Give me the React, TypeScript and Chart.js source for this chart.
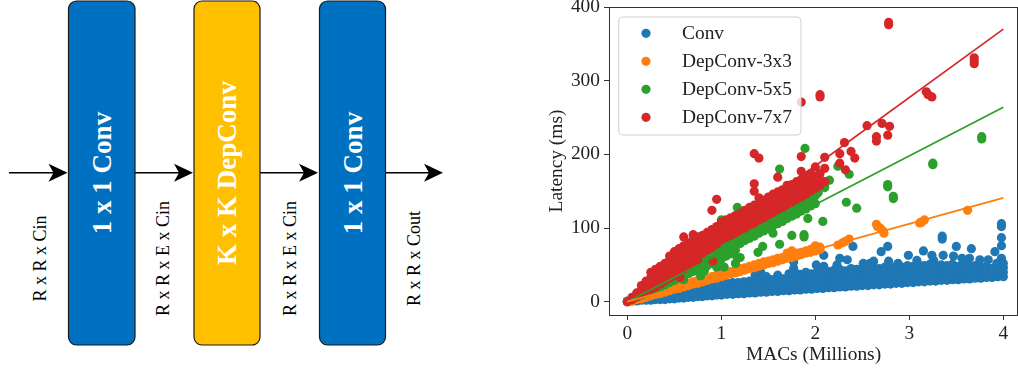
import React, { useEffect, useRef } from "react";
import { Chart, registerables } from "chart.js";
Chart.register(...registerables);

// ---------- data ----------
const seriesNames = ["Conv", "DepConv-3x3", "DepConv-5x5", "DepConv-7x7"];
const seriesColors = ["#1f77b4", "#ff7f0e", "#2ca02c", "#d62728"];
const xTicks = [0, 1, 2, 3, 4];
const yTicks = [0, 100, 200, 300, 400];
const fitX = [0, 4];
const fit3 = [0, 141];
const fit5 = [0, 264];
const fit7 = [-1, 370];

const blockLabels = ["1 x 1 Conv", "K x K DepConv", "1 x 1 Conv"];
const tensorLabels = ["R x R x Cin", "R x R x E x Cin", "R x R x E x Cin", "R x R x Cout"];

// Columns: [MACs, latency, latency, ...]
const convCols: number[][] = [
  [0,0,1],[0.05,1,3],[0.1,1,5],[0.15,2,6],[0.2,2,7],[0.25,2,5,9],[0.3,3,6,10],[0.35,3,7,11],[0.4,3,8,12],
  [0.45,4,9,13],[0.5,4,9,14],[0.55,5,10,15],[0.6,5,11,16],[0.65,6,11,17],[0.7,6,12,18],[0.75,7,13,19],
  [0.8,7,13,20],[0.85,8,14,21],[0.9,8,15,22],[0.95,9,16,23],[1,9,16,24],[1.06,10,17,25],[1.12,10,18,26],
  [1.18,11,18,26],[1.24,11,19,27],[1.3,12,20,28],[1.36,12,20,28,36],[1.42,13,21,29,40],[1.48,13,21,29,34],
  [1.54,14,22,30],[1.6,14,22,30,36],[1.66,15,23,31],[1.72,15,23,31,38],[1.78,16,24,32,40],[1.84,16,24,32,37],
  [1.9,17,25,33,40],[1.96,17,25,33,38],[2.02,18,26,34,40],[2.08,18,26,34,42],[2.14,19,27,35,41],
  [2.2,19,27,35,43],[2.26,20,28,36,44],[2.32,20,28,36,42],[2.38,21,29,37,45],[2.44,21,29,37,44],
  [2.5,22,30,38,45],[2.56,22,30,38,43],[2.62,23,31,39,46],[2.68,23,31,39,45],[2.74,24,32,40,47],
  [2.8,24,32,40,46],[2.86,25,33,41,48],[2.92,25,33,41,47],[2.98,26,34,42,49],[3.04,26,34,42,48],
  [3.1,27,35,43,50],[3.16,27,35,43,49],[3.22,28,36,44,51],[3.28,28,36,43,48],[3.34,29,36,44,50],
  [3.4,29,37,44,49],[3.46,30,37,45,51],[3.52,30,37,44,48],[3.58,31,38,45,50],[3.64,31,38,44,48],
  [3.7,32,38,45,49],[3.76,32,39,45,47],[3.82,33,39,44,48],[3.88,33,39,45],[3.94,34,40,45],[4,34,40,46]
];
const convOutliers: number[][] = [
  [1.36,46],[1.4,50],[1.77,45],[1.77,54],[2.01,50],[2.09,48],[2.09,63],[2.23,50],[2.26,59],[2.34,57],[2.4,75],
  [2.51,52],[2.58,52],[2.62,55],[2.7,68],[2.77,75],[2.78,55],[2.88,52],[2.99,63],[3.08,56],[3.15,69],[3.24,63],
  [3.26,56],[3.35,85],[3.35,89],[3.36,63],[3.47,62],[3.5,75],[3.56,59],[3.64,59],[3.66,72],[3.75,57],[3.84,57],
  [3.91,68],[3.93,52],[3.98,59],[3.98,76],[3.98,87],[3.98,102],[3.98,106],[4,52]
];

const dep3Cols: number[][] = [
  [0,0],[0.05,1,3],[0.1,3,5],[0.15,4,7],[0.2,6,9],[0.25,8,11],[0.3,10,13],[0.35,11,14],[0.4,13,16],
  [0.45,15,18],[0.5,17,20],[0.55,18,22],[0.6,20,23],[0.65,22,25],[0.7,24,27],[0.75,25,29],[0.8,27,31],
  [0.85,29,32],[0.9,31,34],[0.95,32,36],[1,34,38],[1.05,36,39],[1.1,38,41],[1.15,39,43],[1.2,41,45],
  [1.25,43,46],[1.3,45,48],[1.35,46,50],[1.4,48,52],[1.45,50,54],[1.5,52,55],[1.55,53,57],[1.6,55,59],
  [1.65,57,60],[1.7,59,62,66],[1.75,60,64,69],[1.8,62,66],[1.85,64,67],[1.9,66,69],[1.95,67,71],
  [2,69,73,76],[2.05,71,74]
];
const dep3Outliers: number[][] = [
  [2.24,77],[2.29,80],[2.32,82],[2.36,85],[2.65,105],[2.66,102],[2.69,100],[2.72,96],[2.73,93],
  [3.11,107],[3.13,108],[3.16,111],[3.62,124]
];

const dep5Cols: number[][] = [
  [0,0],[0.05,3],[0.1,6],[0.15,9],[0.2,12,14],[0.25,15,17],[0.3,18,21],[0.35,20,24],[0.4,23,28],
  [0.45,26,31],[0.5,29,35],[0.55,32,38],[0.6,35,42],[0.65,38,45,50],[0.7,41,48,54],[0.75,43,51,57],
  [0.8,46,54,60],[0.85,49,57,63],[0.9,52,60,67],[0.95,55,63,70],[1,58,67,74],[1.05,62,70,77],
  [1.1,65,73,80],[1.15,70,77,84],[1.2,79,87],[1.25,83,91],[1.3,86,94,101],[1.35,89,97,105],
  [1.4,93,101,108],[1.45,96,104,112],[1.5,99,107,115],[1.55,103,111,119],[1.6,106,114,122],
  [1.65,109,118,126],[1.7,113,121,130],[1.75,116,125,133],[1.8,119,128,137],[1.85,123,132,140],
  [1.9,126,135,144],[1.95,130,140],[2,133,144]
];
const dep5Outliers: number[][] = [
  [0.56,34],[0.6,30],[0.6,70],[0.74,43],[0.78,35],[0.78,88],[0.82,42],[0.9,53],[0.9,86],[0.95,47],[0.97,48],
  [1,105],[1,111],[1.03,47],[1.15,52],[1.17,59],[1.17,128],[1.2,60],[1.39,67],[1.44,75],[1.55,93],[1.62,78],
  [1.62,180],[1.75,90],[1.88,88],[1.88,91],[1.89,208],[1.92,113],[1.93,158],[2.03,148],[2.05,160],[2.08,109],
  [2.1,155],[2.1,160],[2.15,165],[2.24,184],[2.33,135],[2.36,173],[2.44,127],[2.77,156],[2.77,159],[2.83,140],
  [2.83,143],[3.25,186],[3.25,188],[3.77,221],[3.77,224]
];

const dep7Cols: number[][] = [
  [0,0],[0.05,3,6],[0.1,7,12],[0.15,10,16,22],[0.2,14,21,28],[0.25,17,25,33,40],[0.3,20,28,36,44],
  [0.35,24,32,40,48],[0.4,28,36,44,52],[0.45,32,40,48,56,62],[0.5,36,44,52,60,68],[0.55,40,48,56,64,72],
  [0.6,44,52,60,68,76,88],[0.65,48,56,64,72,80],[0.7,52,60,68,76,84,91],[0.75,56,64,72,80,88],
  [0.8,66,74,82,90],[0.85,70,78,86,94],[0.9,74,82,90,98,124],[0.95,78,86,94,102,139],[1,84,92,100,108],
  [1.05,87,95,103,111],[1.1,90,98,106,114],[1.15,93,101,109,117],[1.2,97,105,113,120],[1.25,100,108,116,124],
  [1.3,104,112,120,128],[1.35,107,115,123,131,150,160,201],[1.4,111,119,127,134,141,195],[1.45,114,122,130,138],
  [1.5,118,126,134,142],[1.55,121,129,137,146],[1.6,125,133,141,149,169],[1.65,128,136,144,152],
  [1.7,132,140,148,158],[1.75,135,143,151,159],[1.8,139,147,155,163],[1.85,142,150,158,166,177,197,271],
  [1.9,146,154,162,170],[1.95,150,158,166,174],[2,154,162,170,183],[2.05,158,166,174,278,281],[2.1,163,181,196]
];
const dep7Outliers: number[][] = [
  [0.56,33],[0.91,55],[2.26,188],[2.26,201],[2.31,216],[2.32,179],[2.38,204],[2.42,195],[2.55,239],[2.65,218],
  [2.65,224],[2.71,242],[2.77,226],[2.79,238],[2.78,376],[2.78,379],[3.18,285],[3.2,281],[3.24,278],[3.69,323],
  [3.69,327],[3.69,331]
];

// ---------- styles ----------
const SERIF = '"Liberation Serif", "Times New Roman", Times, serif';
const FONT_PX = 19.4;
const INK = "#222";

const colsToXY = (cols: number[][], extra: number[][]) => [
  ...cols.flatMap(([x, ...ys]) => ys.map((y) => ({ x, y }))),
  ...extra.map(([x, y]) => ({ x, y })),
];
const fitXY = (ys: number[]) => fitX.map((x, i) => ({ x, y: ys[i] }));

const frameAndLegend = {
  id: "frameAndLegend",
  afterDatasetsDraw(chart: any) {
    const { ctx, chartArea } = chart;
    const { left, top, right } = chartArea;
    ctx.save();
    ctx.strokeStyle = "#333";
    ctx.lineWidth = 1;
    ctx.beginPath();
    ctx.moveTo(left, Math.round(top) + 0.5);
    ctx.lineTo(right, Math.round(top) + 0.5);
    ctx.moveTo(Math.round(right) - 0.5, top);
    ctx.lineTo(Math.round(right) - 0.5, chartArea.bottom);
    ctx.stroke();

    const bx = left + 9.7;
    const by = top + 10;
    const bw = 182.3;
    const bh = 118;
    const r = 4;
    ctx.beginPath();
    ctx.moveTo(bx + r, by);
    ctx.lineTo(bx + bw - r, by);
    ctx.arcTo(bx + bw, by, bx + bw, by + r, r);
    ctx.lineTo(bx + bw, by + bh - r);
    ctx.arcTo(bx + bw, by + bh, bx + bw - r, by + bh, r);
    ctx.lineTo(bx + r, by + bh);
    ctx.arcTo(bx, by + bh, bx, by + bh - r, r);
    ctx.lineTo(bx, by + r);
    ctx.arcTo(bx, by, bx + r, by, r);
    ctx.closePath();
    ctx.fillStyle = "rgba(255,255,255,0.8)";
    ctx.fill();
    ctx.strokeStyle = "#d0d0d0";
    ctx.lineWidth = 1;
    ctx.stroke();

    ctx.font = `${FONT_PX}px ${SERIF}`;
    ctx.textBaseline = "middle";
    ctx.textAlign = "left";
    seriesNames.forEach((name, i) => {
      const cy = by + 16.3 + i * 28;
      ctx.beginPath();
      ctx.fillStyle = seriesColors[i];
      ctx.arc(bx + 27.3, cy, 4.6, 0, Math.PI * 2);
      ctx.fill();
      ctx.fillStyle = INK;
      ctx.fillText(name, bx + 63.3, cy + 1);
    });
    ctx.restore();
  },
};

function Diagram() {
  const boxes = [
    { x: 68.5, w: 66.5, fill: "#0070C0" },
    { x: 194, w: 66, fill: "#FFC000" },
    { x: 319.5, w: 66, fill: "#0070C0" },
  ];
  const arrows = [
    [9, 67.5],
    [135, 193],
    [260, 318],
    [385.5, 443],
  ];
  const labelX = [40, 163, 290, 414];
  const ay = 172.7;
  return (
    <svg width={540} height={370} style={{ position: "absolute", left: 0, top: 0 }}>
      {arrows.map(([a, b], i) => (
        <g key={"a" + i}>
          <line x1={a} y1={ay} x2={b - 8} y2={ay} stroke="#000" strokeWidth={1.5} />
          <path
            d={`M ${b} ${ay} L ${b - 19} ${ay - 9} L ${b - 14} ${ay} L ${b - 19} ${ay + 9} Z`}
            fill="#000"
          />
        </g>
      ))}
      {boxes.map((bx, i) => (
        <g key={"b" + i}>
          <rect x={bx.x} y={1} width={bx.w} height={344} rx={8} ry={8} fill={bx.fill} stroke="#1a1a1a" strokeWidth={1.2} />
          <text
            transform={`translate(${bx.x + bx.w / 2},173) rotate(-90)`}
            textAnchor="middle"
            dominantBaseline="central"
            fill="#fff"
            fontWeight="bold"
            fontSize={27}
            fontFamily={SERIF}
          >
            {blockLabels[i]}
          </text>
        </g>
      ))}
      {tensorLabels.map((t, i) => (
        <text
          key={"t" + i}
          transform={`translate(${labelX[i]},258.5) rotate(-90)`}
          textAnchor="middle"
          dominantBaseline="central"
          fill="#000"
          fontSize={18}
          fontFamily={SERIF}
        >
          {t}
        </text>
      ))}
    </svg>
  );
}

export default function App() {
  const ref = useRef<HTMLCanvasElement>(null);

  useEffect(() => {
    if (!ref.current) return;
    const mkScatter = (i: number, data: any[], order: number) => ({
      label: seriesNames[i],
      data,
      backgroundColor: seriesColors[i],
      borderWidth: 0,
      pointRadius: 4.6,
      pointHoverRadius: 4.6,
      order,
    });
    const mkLine = (i: number, ys: number[]) => ({
      label: seriesNames[i] + " fit",
      data: fitXY(ys),
      showLine: true,
      borderColor: seriesColors[i],
      borderWidth: 1.8,
      pointRadius: 0,
      fill: false,
      order: 0,
    });
    const tickFont = { family: SERIF, size: FONT_PX };
    const axisCommon = {
      grid: { drawOnChartArea: false, drawTicks: true, tickLength: 5, tickColor: "#333", tickWidth: 1 },
      border: { display: true, color: "#333", width: 1 },
    };
    const chart = new Chart(ref.current, {
      type: "scatter",
      data: {
        datasets: [
          mkScatter(0, colsToXY(convCols, convOutliers), 4),
          mkScatter(1, colsToXY(dep3Cols, dep3Outliers), 3),
          mkScatter(2, colsToXY(dep5Cols, dep5Outliers), 2),
          mkScatter(3, colsToXY(dep7Cols, dep7Outliers), 1),
          mkLine(1, fit3),
          mkLine(2, fit5),
          mkLine(3, fit7),
        ] as any,
      },
      options: {
        animation: false,
        responsive: false,
        events: [],
        layout: { autoPadding: false, padding: { top: 7, right: 0, left: 0, bottom: 0 } },
        plugins: { legend: { display: false }, tooltip: { enabled: false } },
        scales: {
          x: {
            type: "linear",
            min: -0.195,
            max: 4.156,
            afterBuildTicks: (axis: any) => {
              axis.ticks = xTicks.map((v) => ({ value: v }));
            },
            afterFit: (s: any) => {
              s.height = 55;
              s.paddingLeft = 0;
              s.paddingRight = 0;
            },
            ...axisCommon,
            ticks: { font: tickFont, color: INK, padding: 2, maxRotation: 0, callback: (v: any) => String(v) },
            title: {
              display: true,
              text: "MACs (Millions)",
              font: { family: SERIF, size: FONT_PX },
              color: INK,
              padding: { top: 0, bottom: 3 },
            },
          },
          y: {
            type: "linear",
            min: -18,
            max: 400,
            afterBuildTicks: (axis: any) => {
              axis.ticks = yTicks.map((v) => ({ value: v }));
            },
            afterFit: (s: any) => {
              s.width = 69;
              s.paddingTop = 0;
              s.paddingBottom = 0;
            },
            ...axisCommon,
            ticks: { font: tickFont, color: INK, padding: 4, callback: (v: any) => String(v) },
            title: {
              display: true,
              text: "Latency (ms)",
              font: { family: SERIF, size: FONT_PX },
              color: INK,
              padding: { top: 5, bottom: 0 },
            },
          },
        },
      } as any,
      plugins: [frameAndLegend],
    });
    return () => chart.destroy();
  }, []);

  return (
    <div
      style={{
        position: "absolute",
        left: 0,
        top: 0,
        width: 1018,
        height: 370,
        background: "#fff",
        overflow: "hidden",
      }}
    >
      <Diagram />
      <div style={{ position: "absolute", left: 540, top: 0, width: 478, height: 370 }}>
        <canvas ref={ref} width={478} height={370} style={{ display: "block" }} />
      </div>
    </div>
  );
}
